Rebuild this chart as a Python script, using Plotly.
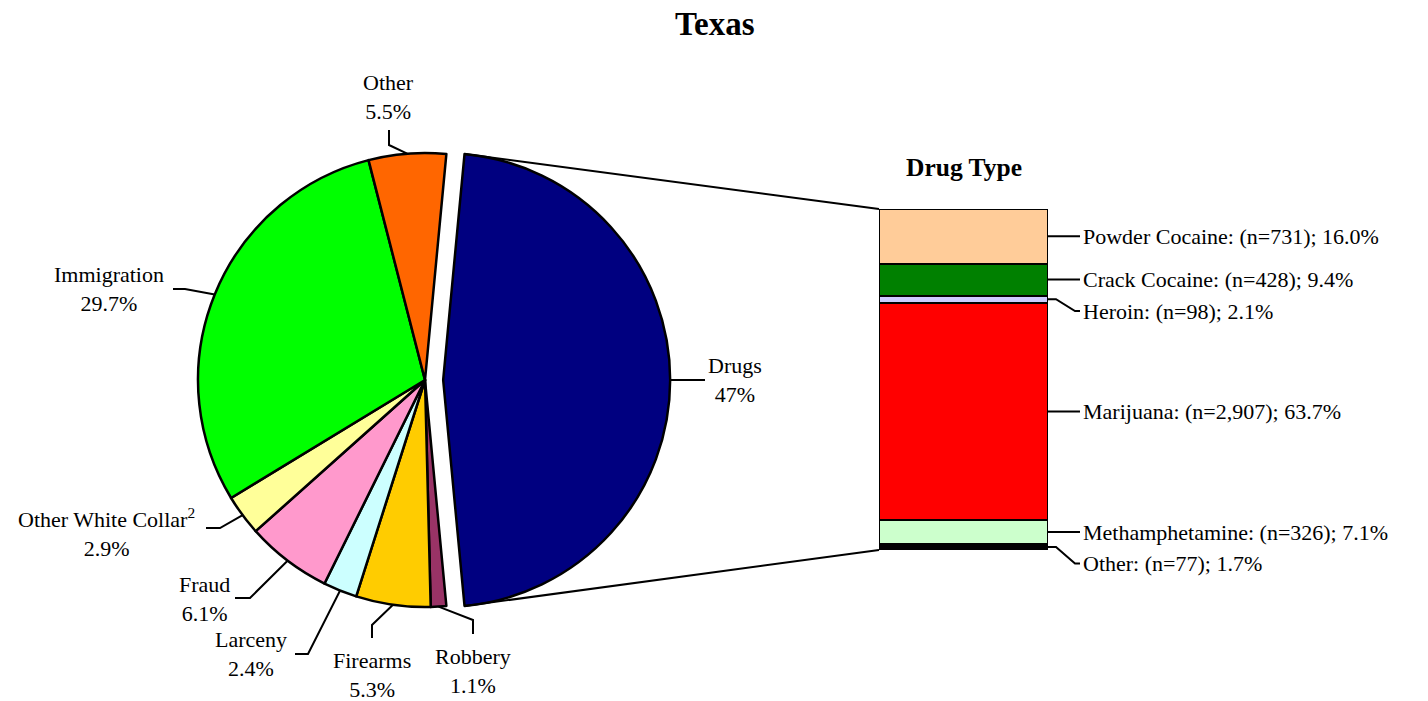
import math
import plotly.graph_objects as go

W, H = 1428, 701

# ---------------- data ----------------
crime_labels = ["Drugs", "Robbery", "Firearms", "Larceny", "Fraud",
                "Other White Collar<sup>2</sup>", "Immigration", "Other"]
crime_pcts = [47, 1.1, 5.3, 2.4, 6.1, 2.9, 29.7, 5.5]
crime_colors = ["#000080", "#993366", "#FFCC00", "#CCFFFF", "#FF99CC",
                "#FFFF99", "#00FF00", "#FF6600"]

drug_types = ["Powder Cocaine", "Crack Cocaine", "Heroin", "Marijuana",
              "Methamphetamine", "Other"]
drug_counts = [731, 428, 98, 2907, 326, 77]
drug_pcts = [16.0, 9.4, 2.1, 63.7, 7.1, 1.7]
drug_colors = ["#FFCC99", "#008000", "#CCCCFF", "#FF0000", "#CCFFCC", "#000000"]

# ---------------- layout constants (pixels) ----------------
FONT = "Times New Roman, Liberation Serif, serif"
PIE_CX, PIE_CY, PIE_R = 425, 380, 227
PULL = 0.08
BAR_X0, BAR_X1, BAR_Y_TOP, BAR_Y_BOT = 879, 1048, 209, 550
LBL_X = 1080
LBL_GAP = 31.5

# pie label positions: text-block centre, leader knee, leader end
pie_label_xy = [(735, 380), (473, 671), (372, 675), (251, 654), (204, 599),
                (106, 532), (109, 289), (389, 97)]
pie_leader_knee = [None, (473, 620), (372, 625), (308, 654), (250, 598),
                   (220, 528), (185, 289), (389, 145)]
pie_leader_end = [(705, 380), (473, 634), (372, 638), (295, 654), (235, 598),
                  (206, 528), (173, 289), (389, 130)]


def P(x, y):
    return x / W, 1 - y / H


fig = go.Figure()

# ---------------- pie ----------------
total = sum(crime_pcts)
rotation = 90 - crime_pcts[0] / total * 360 / 2
half = PIE_R * (1 + PULL)
fig.add_trace(go.Pie(
    labels=crime_labels, values=crime_pcts, sort=False, direction="clockwise",
    rotation=rotation, pull=[PULL] + [0] * (len(crime_pcts) - 1),
    marker=dict(colors=crime_colors, line=dict(color="black", width=2.5)),
    textinfo="none", showlegend=False, hoverinfo="label+value",
    domain=dict(x=[(PIE_CX - half) / W, (PIE_CX + half) / W],
                y=[1 - (PIE_CY + half) / H, 1 - (PIE_CY - half) / H]),
))

shapes = []
annotations = []


def line_path(pts):
    d = ""
    for i, (x, y) in enumerate(pts):
        px, py = P(x, y)
        d += ("M" if i == 0 else " L") + f" {px:.5f} {py:.5f}"
    return dict(type="path", path=d, xref="paper", yref="paper",
                line=dict(color="black", width=2))


cum = rotation
for i, (lab, v) in enumerate(zip(crime_labels, crime_pcts)):
    span = v / total * 360
    mid = math.radians(cum + span / 2)
    ox = PULL * PIE_R * math.sin(mid) if i == 0 else 0
    oy = -PULL * PIE_R * math.cos(mid) if i == 0 else 0
    ex = PIE_CX + ox + PIE_R * math.sin(mid)
    ey = PIE_CY + oy - PIE_R * math.cos(mid)
    pts = [(ex, ey)]
    if pie_leader_knee[i] is not None:
        pts.append(pie_leader_knee[i])
    pts.append(pie_leader_end[i])
    shapes.append(line_path(pts))
    tx, ty = P(*pie_label_xy[i])
    annotations.append(dict(x=tx, y=ty, xref="paper", yref="paper",
                            text=f"{lab}<br>{v:g}%", showarrow=False,
                            xanchor="center", yanchor="middle", align="center",
                            font=dict(family=FONT, size=22, color="black")))
    if i == 0:
        a0 = math.radians(cum)
        a1 = math.radians(cum + span)
        top = (PIE_CX + ox + PIE_R * math.sin(a0), PIE_CY + oy - PIE_R * math.cos(a0))
        bot = (PIE_CX + ox + PIE_R * math.sin(a1), PIE_CY + oy - PIE_R * math.cos(a1))
        shapes.append(line_path([top, (BAR_X0, BAR_Y_TOP)]))
        shapes.append(line_path([bot, (BAR_X0, BAR_Y_BOT)]))
    cum += span

# ---------------- stacked bar ----------------
dtotal = sum(drug_pcts)
for name, n, p, c in reversed(list(zip(drug_types, drug_counts, drug_pcts, drug_colors))):
    fig.add_trace(go.Bar(x=[0], y=[p], width=1, name=name, showlegend=False,
                         marker=dict(color=c, line=dict(color="black", width=2.5)),
                         hovertemplate=f"{name}: {n:,}<extra></extra>"))

bar_h = BAR_Y_BOT - BAR_Y_TOP
acc = 0
prev_ly = -1e9
for name, n, p in zip(drug_types, drug_counts, drug_pcts):
    mid_y = BAR_Y_TOP + (acc + p / 2) / dtotal * bar_h
    ly = max(mid_y, prev_ly + LBL_GAP)
    prev_ly = ly
    if abs(ly - mid_y) < 1:
        pts = [(BAR_X1, mid_y), (LBL_X, mid_y)]
    else:
        pts = [(BAR_X1, mid_y), (BAR_X1 + 8, mid_y), (LBL_X - 5, ly), (LBL_X, ly)]
    shapes.append(line_path(pts))
    tx, ty = P(LBL_X + 1, ly)
    annotations.append(dict(x=tx, y=ty, xref="paper", yref="paper",
                            text=f"{name}: (n={n:,}); {p:.1f}%", showarrow=False,
                            xanchor="left", yanchor="middle",
                            font=dict(family=FONT, size=22, color="black")))
    acc += p

# headings
tx, ty = P((BAR_X0 + BAR_X1) / 2, 168)
annotations.append(dict(x=tx, y=ty, xref="paper", yref="paper", text="<b>Drug Type</b>",
                        showarrow=False, xanchor="center", yanchor="middle",
                        font=dict(family=FONT, size=25.5, color="black")))
tx, ty = P(W / 2 + 1, 24)
annotations.append(dict(x=tx, y=ty, xref="paper", yref="paper", text="<b>Texas</b>",
                        showarrow=False, xanchor="center", yanchor="middle",
                        font=dict(family=FONT, size=33, color="black")))

fig.update_layout(
    width=W, height=H, margin=dict(l=0, r=0, t=0, b=0),
    paper_bgcolor="white", plot_bgcolor="white",
    barmode="stack", bargap=0,
    xaxis=dict(domain=[BAR_X0 / W, BAR_X1 / W], range=[-0.5, 0.5], visible=False,
               fixedrange=True),
    yaxis=dict(domain=[1 - BAR_Y_BOT / H, 1 - BAR_Y_TOP / H], range=[0, dtotal],
               visible=False, fixedrange=True),
    shapes=shapes, annotations=annotations,
)

fig.write_html(
    "out.html",
    config={"displayModeBar": False},
    post_script="document.body.style.margin='0';document.body.style.overflow='hidden';",
)
